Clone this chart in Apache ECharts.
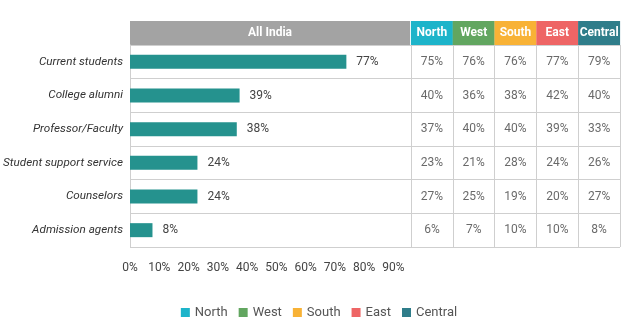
<!DOCTYPE html>
<html>
<head>
<meta charset="utf-8">
<script src="https://cdn.jsdelivr.net/npm/echarts@6/dist/echarts.min.js"></script>
<style>
  html, body { margin: 0; padding: 0; background: #fff; }
  #chart { width: 638px; height: 334px; }
</style>
</head>
<body>
<div id="chart"></div>
<script>
// Information sources, share of respondents (%)
const sources = ['Current students', 'College alumni', 'Professor/Faculty',
                 'Student support service', 'Counselors', 'Admission agents'];
const allIndia = [77, 39, 38, 24, 24, 8];

const regions = ['North', 'West', 'South', 'East', 'Central'];
const north   = [75, 40, 37, 23, 27, 6];
const west    = [76, 36, 40, 21, 25, 7];
const south   = [76, 38, 40, 28, 19, 10];
const east    = [77, 42, 39, 24, 20, 10];
const central = [79, 40, 33, 26, 27, 8];
const regionValues = [north, west, south, east, central];

const regionColors = ['#1db4ca', '#62a660', '#f8b236', '#ee6565', '#2f7d8a'];
const barColor = '#25928e';
const headerTitle = 'All India';

const FONT = 'Roboto, "Noto Sans", sans-serif';
const lineColor = '#cfcfcf';

const chart = echarts.init(document.getElementById('chart'), null, { renderer: 'canvas' });

const headerRich = {};
regions.forEach((r, i) => {
  headerRich['r' + i] = {
    backgroundColor: regionColors[i],
    color: '#fff',
    fontFamily: FONT,
    fontWeight: 'bold',
    fontSize: 12,
    width: 42,
    height: 24,
    lineHeight: 24,
    align: 'center'
  };
});

const tableSeries = regions.map((r, i) => ({
  name: r,
  type: 'scatter',
  xAxisIndex: 2,
  yAxisIndex: 1,
  symbolSize: 0,
  itemStyle: { color: regionColors[i] },
  label: {
    show: true,
    position: 'inside',
    color: '#444',
    fontFamily: FONT,
    fontSize: 12,
    formatter: p => p.value[2] + '%'
  },
  emphasis: { disabled: true },
  data: sources.map((s, j) => [r, s, regionValues[i][j]])
}));

chart.setOption({
  animation: false,
  textStyle: { fontFamily: FONT },
  grid: [
    { left: 130, top: 45, width: 281, height: 202, outerBoundsMode: 'none', containLabel: false },
    { left: 411, top: 45, width: 209, height: 202, outerBoundsMode: 'none', containLabel: false }
  ],
  xAxis: [
    { // value scale for the bars
      gridIndex: 0, type: 'value', min: 0, max: 100, show: false
    },
    { // percentage tick labels under the bars
      gridIndex: 0, type: 'value', min: 0, max: 96, interval: 10,
      position: 'bottom',
      axisLine: { show: false }, axisTick: { show: false }, splitLine: { show: false },
      axisLabel: {
        color: '#444', fontFamily: FONT, fontSize: 12, margin: 15,
        showMaxLabel: false, formatter: '{value}%'
      }
    },
    { // region columns of the table
      gridIndex: 1, type: 'category', data: regions, position: 'top',
      axisLine: { show: false }, axisTick: { show: false },
      splitLine: { show: true, lineStyle: { color: lineColor, width: 1 } },
      axisLabel: {
        interval: 0, margin: 0,
        formatter: (v, i) => '{r' + i + '|' + v + '}',
        rich: headerRich
      }
    }
  ],
  yAxis: [
    {
      gridIndex: 0, type: 'category', data: sources, inverse: true,
      axisLine: { show: true, lineStyle: { color: lineColor } },
      axisTick: { show: false },
      splitLine: { show: true, lineStyle: { color: lineColor, width: 1 } },
      axisLabel: { color: '#333', fontStyle: 'italic', fontFamily: FONT, fontSize: 11.7, margin: 7 }
    },
    {
      gridIndex: 1, type: 'category', data: sources, inverse: true,
      axisLine: { show: false }, axisTick: { show: false }, axisLabel: { show: false },
      splitLine: { show: true, lineStyle: { color: lineColor, width: 1 } }
    }
  ],
  legend: {
    data: regions.map((r, i) => ({ name: r, itemStyle: { color: regionColors[i], opacity: 1 } })),
    icon: 'rect',
    itemWidth: 9, itemHeight: 9, itemGap: 11,
    left: 'center', top: 301,
    selectedMode: false,
    textStyle: { color: '#555', fontFamily: FONT, fontSize: 13 }
  },
  graphic: [
    {
      type: 'group', left: 130, top: 21,
      children: [
        { type: 'rect', shape: { x: 0, y: 0, width: 280, height: 24 }, style: { fill: '#a3a3a3' } },
        { type: 'text', x: 140, y: 12,
          style: { text: headerTitle, fill: '#fff', font: 'bold 12px ' + FONT, align: 'center', verticalAlign: 'middle' } }
      ]
    }
  ],
  series: [
    {
      name: headerTitle,
      type: 'bar',
      xAxisIndex: 0, yAxisIndex: 0,
      barWidth: 14,
      itemStyle: { color: barColor },
      label: {
        show: true, position: 'right', distance: 10,
        color: '#444', fontFamily: FONT, fontSize: 12,
        formatter: '{c}%'
      },
      emphasis: { disabled: true },
      data: allIndia
    },
    ...tableSeries
  ]
});
</script>
</body>
</html>
